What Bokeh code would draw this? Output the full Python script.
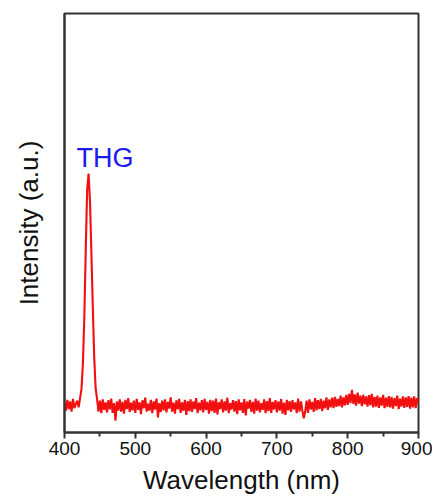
from bokeh.plotting import figure
from bokeh.models import FixedTicker, Label, Range1d
from bokeh.embed import file_html
from bokeh.resources import INLINE

# ---- data ----
x_ticks = [400, 500, 600, 700, 800, 900]
x_minor = [450, 550, 650, 750, 850]
wl_start, wl_step = 400, 2
intensity = [
    70, 52, 78, 56, 74, 50, 80, 58, 68, 76,        # 400-418
    60, 82, 104, 165, 275, 435, 580, 618, 552, 428, # 420-438
    298, 178, 105, 80, 50, 76, 46, 79, 54, 72,     # 440-458
    48, 77, 55, 81, 47, 70, 28, 74, 52, 79,        # 460-478
    50, 73, 45, 78, 56, 82, 49, 71, 53, 76,        # 480-498
    47, 80, 54, 72, 44, 77, 58, 83, 50, 69,        # 500-518
    52, 78, 46, 74, 55, 81, 36, 70, 49, 76,        # 520-538
    53, 79, 48, 73, 57, 84, 50, 71, 45, 77,        # 540-558
    55, 80, 47, 72, 52, 78, 42, 75, 51, 79,        # 560-578
    49, 74, 56, 82, 46, 71, 53, 77, 48, 80,        # 580-598
    54, 73, 45, 78, 51, 76, 47, 81, 43, 72,        # 600-618
    56, 79, 48, 74, 52, 83, 46, 70, 55, 77,        # 620-638
    50, 75, 44, 79, 53, 72, 47, 80, 41, 74,        # 640-658
    57, 78, 49, 73, 45, 81, 52, 76, 48, 70,        # 660-678
    54, 79, 46, 75, 51, 82, 47, 73, 55, 77,        # 680-698
    48, 74, 52, 80, 45, 71, 42, 78, 53, 75,        # 700-718
    49, 77, 55, 72, 46, 81, 50, 74, 52, 34,        # 720-738
    50, 76, 47, 79, 55, 73, 49, 82, 53, 77,        # 740-758
    56, 80, 51, 76, 58, 84, 54, 79, 60, 83,        # 760-778
    58, 85, 61, 80, 63, 88, 60, 84, 65, 90,        # 780-798
    66, 92, 70, 102, 68, 91, 64, 95, 69, 88,       # 800-818
    63, 90, 67, 86, 62, 89, 65, 92, 60, 85,        # 820-838
    62, 88, 59, 84, 64, 90, 58, 83, 61, 87,        # 840-858
    60, 85, 57, 82, 63, 88, 56, 81, 62, 86,        # 860-878
    59, 84, 61, 87, 57, 83, 60, 86, 58, 82,        # 880-898
    70,                                            # 900
]
wavelength = [wl_start + wl_step * i for i in range(len(intensity))]
peak_label = "THG"
label_x, label_y = 417, 654

FONT = "Liberation Sans"

p = figure(width=432, height=500, output_backend="svg", toolbar_location=None,
           x_range=Range1d(400, 900), y_range=Range1d(0, 1000),
           min_border_left=64, min_border_right=14, min_border_top=13, min_border_bottom=68)

p.line(wavelength, intensity, line_color="#f20f0f", line_width=2.1)

p.add_layout(Label(x=label_x, y=label_y, text=peak_label, text_color="#1a1aee",
                   text_font=FONT, text_font_size="27px", text_align="left",
                   text_baseline="alphabetic"))

p.grid.visible = False
p.background_fill_color = "white"
p.border_fill_color = "white"
p.outline_line_color = "#333333"
p.outline_line_width = 2

xa = p.xaxis[0]
xa.ticker = FixedTicker(ticks=x_ticks, minor_ticks=x_minor)
xa.axis_label = "Wavelength (nm)"
xa.axis_label_text_font = FONT
xa.axis_label_text_font_size = "26px"
xa.axis_label_text_font_style = "normal"
xa.axis_label_text_color = "#111111"
xa.axis_label_standoff = 7
xa.major_label_text_font = FONT
xa.major_label_text_font_size = "19px"
xa.major_label_text_color = "#111111"
xa.major_label_standoff = 3
xa.axis_line_color = "#333333"
xa.axis_line_width = 2
xa.major_tick_line_color = "#333333"
xa.major_tick_line_width = 2
xa.major_tick_in = 0
xa.major_tick_out = 6
xa.minor_tick_line_color = "#333333"
xa.minor_tick_line_width = 2
xa.minor_tick_in = 0
xa.minor_tick_out = 4

ya = p.yaxis[0]
ya.ticker = FixedTicker(ticks=[])
ya.axis_label = "Intensity (a.u.)"
ya.axis_label_text_font = FONT
ya.axis_label_text_font_size = "26px"
ya.axis_label_text_font_style = "normal"
ya.axis_label_text_color = "#111111"
ya.axis_label_standoff = 21
ya.axis_line_color = "#333333"
ya.axis_line_width = 2
ya.major_label_text_font_size = "0px"

open("out.html", "w").write(file_html(p, INLINE))
